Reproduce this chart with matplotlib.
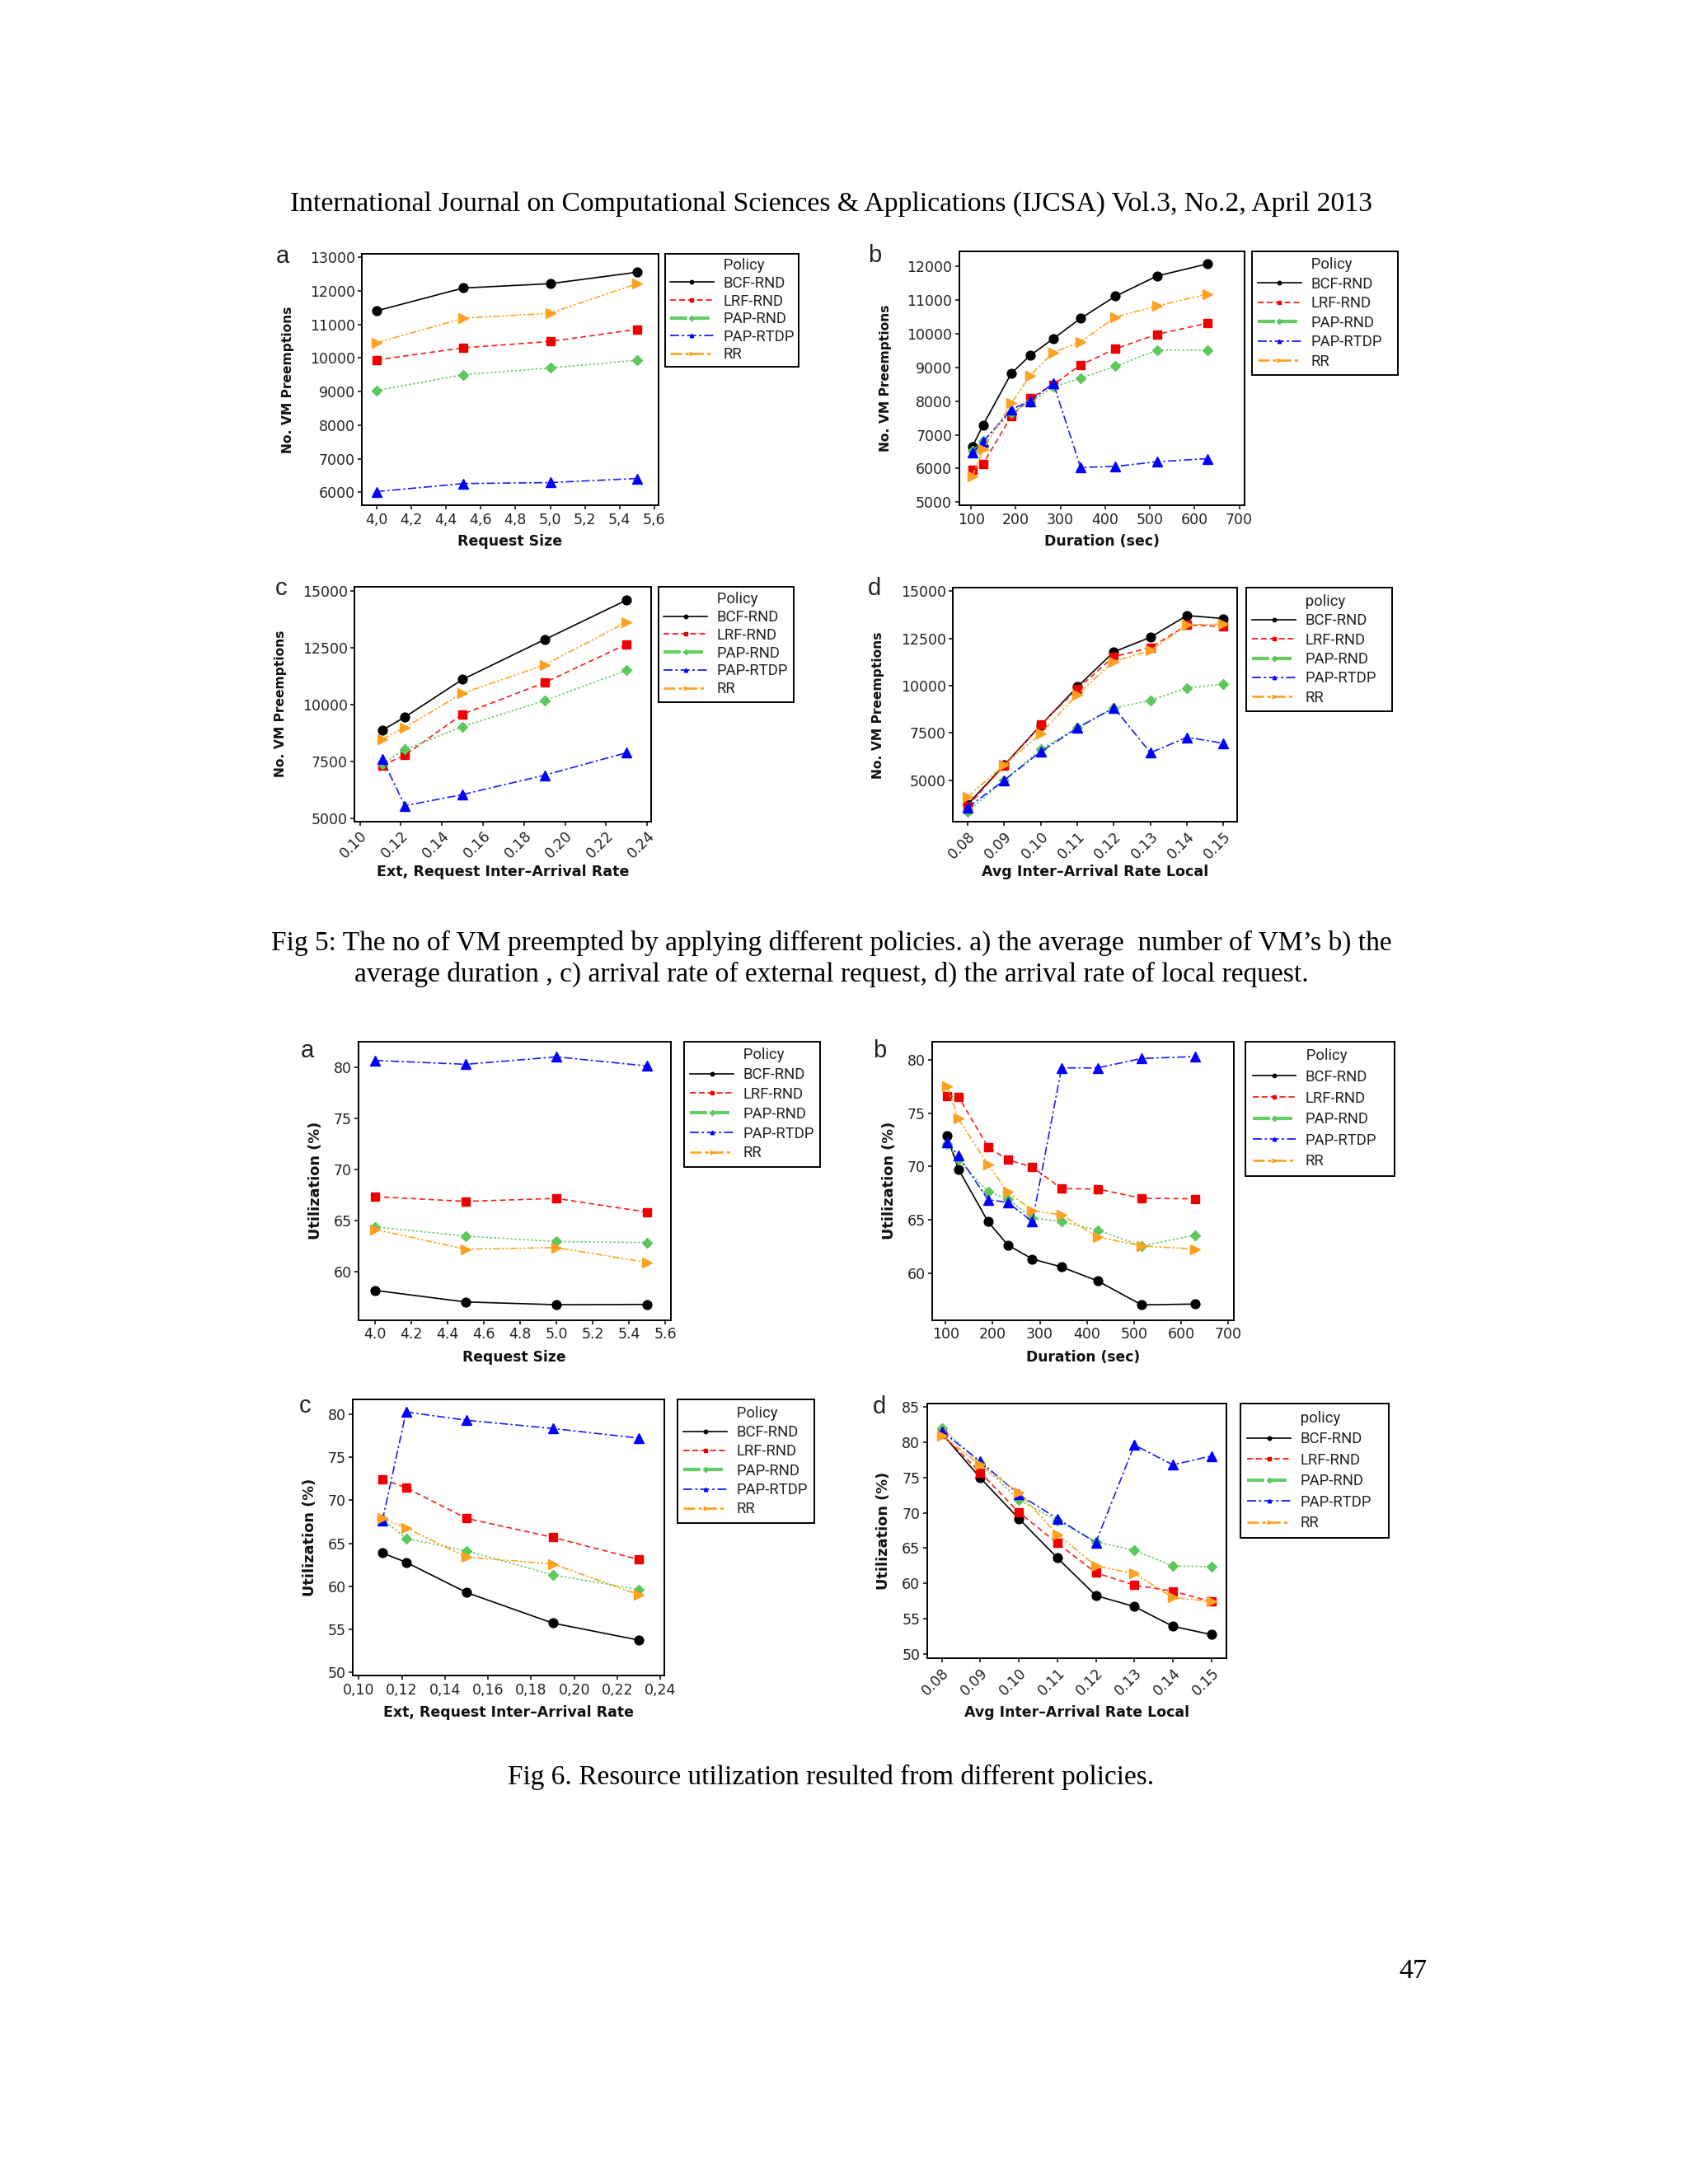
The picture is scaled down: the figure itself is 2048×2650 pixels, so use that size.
import matplotlib
matplotlib.use('Agg')
import matplotlib.pyplot as plt
from matplotlib.lines import Line2D
from matplotlib.font_manager import FontProperties

plt.rcParams['font.family'] = ['DejaVu Sans']

W, H = 2048, 2650

# ---------------- data ----------------
POLICIES = ['BCF-RND', 'LRF-RND', 'PAP-RND', 'PAP-RTDP', 'RR']

# Fig 5 (No. VM Preemptions)
x5a = [4.0, 4.5, 5.0, 5.5]
bcf5a = [11400, 12080, 12210, 12550]
lrf5a = [9940, 10300, 10490, 10850]
pap5a = [9030, 9500, 9700, 9930]
rtdp5a = [6020, 6260, 6290, 6410]
rr5a = [10450, 11180, 11330, 12210]

x5b = [103, 127, 190, 232, 284, 345, 423, 516, 629]
bcf5b = [6650, 7290, 8820, 9350, 9850, 10450, 11110, 11710, 12070]
lrf5b = [5960, 6140, 7550, 8080, 8490, 9070, 9550, 9980, 10310]
pap5b = [6530, 6820, 7660, 7960, 8420, 8680, 9030, 9510, 9510]
rtdp5b = [6470, 6790, 7750, 8000, 8530, 6030, 6060, 6200, 6290]
rr5b = [5760, 6570, 7930, 8760, 9440, 9760, 10490, 10820, 11180]

x5c = [0.111, 0.122, 0.150, 0.190, 0.230]
bcf5c = [8890, 9470, 11120, 12870, 14610]
lrf5c = [7340, 7800, 9590, 10980, 12670]
pap5c = [7420, 8040, 9050, 10190, 11520]
rtdp5c = [7620, 5570, 6060, 6910, 7900]
rr5c = [8500, 9010, 10510, 11760, 13640]

x5d = [0.08, 0.09, 0.10, 0.11, 0.12, 0.13, 0.14, 0.15]
bcf5d = [3720, 5800, 7910, 9940, 11790, 12560, 13710, 13550]
lrf5d = [3620, 5790, 7940, 9830, 11540, 12010, 13210, 13130]
pap5d = [3330, 5000, 6630, 7790, 8810, 9220, 9880, 10090]
rtdp5d = [3550, 5000, 6510, 7760, 8840, 6450, 7270, 6950]
rr5d = [4130, 5800, 7470, 9540, 11280, 11860, 13210, 13260]

# Fig 6 (Utilization %)
x6a = [4.0, 4.5, 5.0, 5.5]
bcf6a = [58.20, 57.07, 56.80, 56.83]
lrf6a = [67.37, 66.91, 67.20, 65.86]
pap6a = [64.41, 63.52, 62.98, 62.88]
rtdp6a = [80.70, 80.32, 81.05, 80.16]
rr6a = [64.17, 62.23, 62.39, 60.94]

x6b = [103, 127, 190, 232, 284, 346, 423, 516, 630]
bcf6b = [72.87, 69.76, 64.84, 62.65, 61.34, 60.59, 59.28, 57.04, 57.12]
lrf6b = [76.60, 76.55, 71.84, 70.63, 69.96, 67.93, 67.90, 67.03, 66.98]
pap6b = [72.10, 70.68, 67.64, 66.95, 65.20, 64.84, 64.04, 62.57, 63.58]
rtdp6b = [72.28, 71.02, 66.90, 66.64, 64.84, 79.25, 79.25, 80.13, 80.31]
rr6b = [77.50, 74.49, 70.17, 67.64, 65.87, 65.48, 63.40, 62.57, 62.27]

x6c = [0.111, 0.122, 0.150, 0.190, 0.230]
bcf6c = [63.88, 62.80, 59.29, 55.74, 53.76]
lrf6c = [72.47, 71.45, 67.90, 65.70, 63.12]
pap6c = [67.81, 65.57, 64.14, 61.33, 59.64]
rtdp6c = [67.65, 80.26, 79.30, 78.34, 77.22]
rr6c = [67.90, 66.79, 63.40, 62.60, 59.03]

x6d = [0.08, 0.09, 0.10, 0.11, 0.12, 0.13, 0.14, 0.15]
bcf6d = [81.20, 74.91, 69.17, 63.62, 58.30, 56.75, 53.96, 52.79]
lrf6d = [81.12, 75.69, 70.06, 65.71, 61.52, 59.78, 58.92, 57.45]
pap6d = [81.97, 77.04, 71.81, 68.90, 65.91, 64.67, 62.49, 62.38]
rtdp6d = [81.51, 77.24, 72.58, 69.17, 65.79, 79.57, 76.77, 78.02]
rr6d = [80.93, 76.77, 72.85, 66.96, 62.49, 61.41, 58.03, 57.45]

# ticks
xt_size = [4.0, 4.2, 4.4, 4.6, 4.8, 5.0, 5.2, 5.4, 5.6]
xl_size_comma = ['4,0', '4,2', '4,4', '4,6', '4,8', '5,0', '5,2', '5,4', '5,6']
xl_size_dot = ['4.0', '4.2', '4.4', '4.6', '4.8', '5.0', '5.2', '5.4', '5.6']
xt_dur = [100, 200, 300, 400, 500, 600, 700]
xl_dur = ['100', '200', '300', '400', '500', '600', '700']
xt_ext = [0.10, 0.12, 0.14, 0.16, 0.18, 0.20, 0.22, 0.24]
xl_ext_dot = ['0.10', '0.12', '0.14', '0.16', '0.18', '0.20', '0.22', '0.24']
xl_ext_comma = ['0,10', '0,12', '0,14', '0,16', '0,18', '0,20', '0,22', '0,24']
xt_loc = [0.08, 0.09, 0.10, 0.11, 0.12, 0.13, 0.14, 0.15]
xl_loc = ['0.08', '0.09', '0.10', '0.11', '0.12', '0.13', '0.14', '0.15']
yt5a = [6000, 7000, 8000, 9000, 10000, 11000, 12000, 13000]
yt5b = [5000, 6000, 7000, 8000, 9000, 10000, 11000, 12000]
yt5cd = [5000, 7500, 10000, 12500, 15000]
yt6ab = [60, 65, 70, 75, 80]
yt6c = [50, 55, 60, 65, 70, 75, 80]
yt6d = [50, 55, 60, 65, 70, 75, 80, 85]

HEADER = "International Journal on Computational Sciences & Applications (IJCSA) Vol.3, No.2, April 2013"
CAP5 = ["Fig 5: The no of VM preempted by applying different policies. a) the average  number of VM\u2019s b) the",
        "average duration , c) arrival rate of external request, d) the arrival rate of local request."]
CAP6 = "Fig 6. Resource utilization resulted from different policies."
PAGENO = "47"

# ---------------- styles ----------------
STYLE = {
    'BCF-RND': dict(color='#000000', mfc='#000000', ls='-', marker='o', ms=7.8),
    'LRF-RND': dict(color='#ff1a1a', mfc='#ee0000', ls=(0, (4, 2.5)), marker='s', ms=7.5),
    'PAP-RND': dict(color='#66cc66', mfc='#5cc85c', ls=(0, (1.5, 1.5)), marker='D', ms=6.5),
    'PAP-RTDP': dict(color='#1a1aff', mfc='#0000ff', ls=(0, (6, 2, 1.5, 2)), marker='^', ms=8.5),
    'RR': dict(color='#ffa526', mfc='#ffa020', ls=(0, (5, 1.5, 1.5, 1.5, 1.5, 1.5)), marker='>', ms=8.5),
}
LEG_LW = {'BCF-RND': 1.2, 'LRF-RND': 1.3, 'PAP-RND': 3.0, 'PAP-RTDP': 1.3, 'RR': 2.0}
LEG_LS = {'BCF-RND': '-', 'LRF-RND': (0, (4, 2)), 'PAP-RND': (0, (5, 1.5)),
          'PAP-RTDP': (0, (6, 2, 1.5, 2)), 'RR': (0, (5, 1.5, 1.5, 1.5))}
LEG_FAMILY = ['Roboto', 'DejaVu Sans']
LEG_SIZE = 13.3

fig = plt.figure(figsize=(W / 100, H / 100), dpi=100)
fig.patch.set_facecolor('white')
renderer = fig.canvas.get_renderer()

LEG_FP = FontProperties(family=LEG_FAMILY, size=LEG_SIZE)
_w1 = renderer.get_text_width_height_descent('Policy', LEG_FP, ismath=False)[0]
_w2 = renderer.get_text_width_height_descent(' ' * 20 + 'Policy', LEG_FP, ismath=False)[0]
SPACE_W = max((_w2 - _w1) / 20.0, 1.0)
FS_PX = LEG_SIZE * 100 / 72.0
HLEN, HPAD = 2.85, 0.62
N_SP = int(round((HLEN + HPAD) * FS_PX / SPACE_W))


def panel(box, x, series, xlim, ylim, xticks, xlabels, yticks, xlabel, ylabel,
          letter, letter_xy, leg_box, leg_title, leg_bp,
          ylab_x, xlab_y, ylab_size, xlab_size, rotate=False):
    l, t, r, b = box
    ax = fig.add_axes([l / W, 1 - b / H, (r - l) / W, (b - t) / H])
    for name, vals in zip(POLICIES, series):
        s = STYLE[name]
        ax.plot(x, vals, color=s['color'], ls=s['ls'], lw=1.2, marker=s['marker'],
                ms=s['ms'], mfc=s['mfc'], mec=s['mfc'], zorder=3)
    ax.set_xlim(*xlim)
    ax.set_ylim(*ylim)
    ax.set_yticks(yticks)
    ax.set_yticklabels([str(v) for v in yticks])
    ax.set_xticks(xticks)
    if rotate:
        ax.set_xticklabels(xlabels, rotation=45, ha='right', rotation_mode='anchor',
                           fontsize=13)
    else:
        ax.set_xticklabels(xlabels)
    ax.tick_params(direction='out', length=3.5, width=1.1, labelsize=12.5,
                   labelcolor='#222222', pad=2.5)
    for sp in ax.spines.values():
        sp.set_linewidth(1.4)
        sp.set_color('black')
    ax.set_xlabel(xlabel, fontsize=xlab_size, fontweight='bold', va='center', color='#111111')
    ax.xaxis.set_label_coords(0.5, (b - xlab_y) / (b - t))
    ax.set_ylabel(ylabel, fontsize=ylab_size, fontweight='bold', va='center', color='#111111')
    ax.yaxis.set_label_coords((ylab_x - l) / (r - l), 0.5)
    fig.text(letter_xy[0] / W, 1 - letter_xy[1] / H, letter, fontsize=21,
             family='Liberation Sans', color='#222222', ha='center', va='baseline')

    handles = []
    for name in POLICIES:
        s = STYLE[name]
        handles.append(Line2D([], [], color=s['color'], ls=LEG_LS[name], lw=LEG_LW[name],
                              marker=s['marker'], ms=3.2, mfc=s['mfc'], mec=s['mfc']))
    lx0, ly0, lx1, ly1 = leg_box

    def make(ls):
        lg = ax.legend(handles, POLICIES, title=' ' * N_SP + leg_title, loc='upper left',
                       bbox_to_anchor=(lx0 / W, 1 - ly0 / H, (lx1 - lx0) / W, 0),
                       bbox_transform=fig.transFigure, mode='expand', borderaxespad=0,
                       fancybox=False, edgecolor='black', framealpha=1,
                       prop=LEG_FP, title_fontproperties=LEG_FP,
                       handlelength=HLEN, handletextpad=HPAD, labelspacing=ls,
                       borderpad=leg_bp, alignment='left')
        return lg

    ls0 = 0.3
    leg = make(ls0)
    h0 = leg.get_window_extent(renderer).height
    ls1 = ls0 + ((ly1 - ly0) - h0) / (5 * FS_PX)
    leg = make(max(ls1, 0.0))
    leg.get_frame().set_linewidth(1.4)
    for txt in leg.get_texts():
        txt.set_color('#222222')
    leg.get_title().set_color('#222222')
    return ax


Y5 = 'No. VM Preemptions'
Y6 = 'Utilization (%)'
XEXT = 'Ext, Request Inter\u2013Arrival Rate'
XLOC = 'Avg Inter\u2013Arrival Rate Local'

panel((439.1, 307.7, 799.0, 613.3), x5a, [bcf5a, lrf5a, pap5a, rtdp5a, rr5a],
      (3.916, 5.624), (5608, 13105), xt_size, xl_size_comma, yt5a, 'Request Size', Y5,
      'a', (343, 319.3), (807.4, 307.7, 969.4, 445.0), 'Policy', 0.3,
      349.5, 656.7, 11.2, 12.5)
panel((1163.5, 304.7, 1510.1, 613.3), x5b, [bcf5b, lrf5b, pap5b, rtdp5b, rr5b],
      (73, 712), (4902, 12448), xt_dur, xl_dur, yt5b, 'Duration (sec)', Y5,
      'b', (1061, 318.3), (1518.6, 304.7, 1696.0, 455.0), 'Policy', 0.4,
      1074.2, 656.7, 11.2, 12.5)
panel((430.3, 711.7, 790.1, 996.7), x5c, [bcf5c, lrf5c, pap5c, rtdp5c, rr5c],
      (0.0975, 0.242), (4879, 15205), xt_ext, xl_ext_dot, yt5cd, XEXT, Y5,
      'c', (341, 721.7), (799.0, 711.7, 962.7, 851.7), 'Policy', 0.35,
      341, 1058.3, 11.2, 12.6, rotate=True)
panel((1156.2, 713.3, 1501.1, 997.3), x5d, [bcf5d, lrf5d, pap5d, rtdp5d, rr5d],
      (0.07595, 0.15376), (2791, 15174), xt_loc, xl_loc, yt5cd, XLOC, Y5,
      'd', (1061, 721.7), (1511.8, 713.3, 1688.7, 863.3), 'policy', 0.4,
      1065.6, 1058.3, 11.2, 12.6, rotate=True)

panel((435.0, 1264.0, 813.6, 1601.7), x6a, [bcf6a, lrf6a, pap6a, rtdp6a, rr6a],
      (3.909, 5.63), (55.3, 82.53), xt_size, xl_size_dot, yt6ab, 'Request Size', Y6,
      'a', (372.5, 1283.3), (830.0, 1264.0, 994.8, 1415.7), 'Policy', 0.4,
      383.4, 1646.7, 12.8, 12.3)
panel((1131.3, 1264.0, 1496.6, 1601.7), x6b, [bcf6b, lrf6b, pap6b, rtdp6b, rr6b],
      (72, 711), (55.62, 81.7), xt_dur, xl_dur, yt6ab, 'Duration (sec)', Y6,
      'b', (1067, 1283.3), (1511.4, 1264.0, 1691.5, 1426.7), 'Policy', 0.45,
      1078.7, 1646.7, 12.8, 12.3)
panel((428.4, 1698.3, 805.5, 2033.3), x6c, [bcf6c, lrf6c, pap6c, rtdp6c, rr6c],
      (0.0974, 0.2416), (49.62, 81.69), xt_ext, xl_ext_comma, yt6c, XEXT, Y6,
      'c', (370, 1714), (821.9, 1698.3, 988.1, 1847.7), 'Policy', 0.4,
      375.8, 2078.3, 12.8, 12.5)
panel((1124.6, 1703.3, 1488.2, 2012.3), x6d, [bcf6d, lrf6d, pap6d, rtdp6d, rr6d],
      (0.07613, 0.15396), (49.42, 85.39), xt_loc, xl_loc, yt6d, XLOC, Y6,
      'd', (1067, 1715), (1505.1, 1703.3, 1684.8, 1865.7), 'policy', 0.45,
      1071.6, 2078.3, 12.8, 12.5, rotate=True)


# ---------------- page text ----------------
def fit_text(s, x, y, width, ha='center'):
    t = fig.text(x / W, 1 - y / H, s, ha=ha, va='baseline', fontsize=20,
                 family='Liberation Serif', color='black')
    bb = t.get_window_extent(renderer=renderer)
    t.set_fontsize(20 * width / bb.width)
    return t


fit_text(HEADER, 1009, 255.5, 1315)
fit_text(CAP5[0], 1009, 1153, 1365)
fit_text(CAP5[1], 1009, 1191, 1159)
fit_text(CAP6, 1008.5, 2165, 787)
fit_text(PAGENO, 1732, 2400, 34, ha='right')

fig.savefig('out.png', dpi=100, facecolor='white')
